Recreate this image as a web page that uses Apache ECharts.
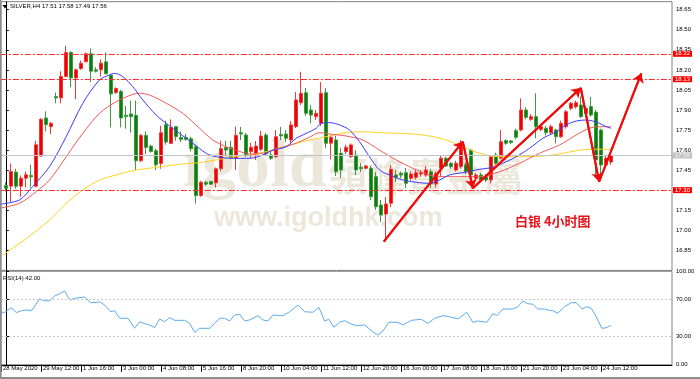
<!DOCTYPE html>
<html><head><meta charset="utf-8">
<script src="https://cdn.jsdelivr.net/npm/echarts@6/dist/echarts.min.js"></script>
<style>html,body{margin:0;padding:0;background:#fff}#c{width:700px;height:379px}</style>
</head><body><div id="c"></div>
<script>
// ---------- data ----------
const tickBars = [-1, 7, 15, 23, 31, 39, 47, 55, 63, 71, 79, 87, 95, 103, 111, 119];
const tickLabels = ['28 May 2020', '29 May 12:00', '1 Jun 16:00', '3 Jun 00:00', '4 Jun 08:00', '5 Jun 16:00',
  '8 Jun 20:00', '10 Jun 04:00', '11 Jun 12:00', '12 Jun 20:00', '16 Jun 00:00', '17 Jun 08:00',
  '18 Jun 16:00', '21 Jun 20:00', '23 Jun 04:00', '24 Jun 12:00'];

const opens = [17.335,17.33,17.435,17.33,17.39,17.41,17.33,17.555,17.84,17.775,
  18.00,17.99,18.15,18.33,18.14,18.21,18.26,18.32,18.20,18.20,
  18.26,18.16,18.03,18.04,17.86,17.87,17.86,17.52,17.71,17.63,
  17.595,17.50,17.79,17.65,17.775,17.695,17.695,17.685,17.625,17.26,
  17.36,17.365,17.355,17.46,17.62,17.62,17.54,17.73,17.713,17.588,
  17.571,17.606,17.713,17.563,17.55,17.716,17.72,17.675,17.775,17.954,
  18.029,17.90,17.85,17.80,18.029,17.651,17.675,17.576,17.588,17.55,
  17.563,17.471,17.464,17.464,17.401,17.189,17.121,17.202,17.414,17.426,
  17.431,17.389,17.396,17.421,17.413,17.438,17.346,17.464,17.539,17.501,
  17.451,17.476,17.49,17.60,17.389,17.414,17.401,17.376,17.563,17.539,
  17.671,17.668,17.745,17.75,17.90,17.83,17.85,17.755,17.763,17.73,
  17.75,17.70,17.775,17.912,17.924,17.937,17.875,17.925,17.884,17.75,
  17.488,17.51];
const closes = [17.315,17.44,17.33,17.39,17.415,17.40,17.64,17.83,17.79,17.80,
  17.99,18.15,18.33,18.14,18.20,18.25,18.32,18.19,18.19,18.25,
  18.17,18.02,18.06,17.84,17.85,17.85,17.52,17.71,17.62,17.59,
  17.49,17.73,17.66,17.77,17.70,17.68,17.68,17.61,17.26,17.36,
  17.345,17.345,17.46,17.61,17.60,17.54,17.71,17.72,17.563,17.621,
  17.63,17.705,17.571,17.539,17.70,17.706,17.688,17.788,17.975,18.025,
  17.875,17.862,17.875,18.025,17.651,17.696,17.438,17.451,17.621,17.638,
  17.451,17.461,17.481,17.251,17.176,17.114,17.197,17.456,17.396,17.414,
  17.351,17.421,17.431,17.431,17.451,17.346,17.426,17.539,17.481,17.476,
  17.501,17.651,17.44,17.414,17.414,17.376,17.376,17.55,17.501,17.663,
  17.651,17.656,17.696,17.90,17.845,17.85,17.775,17.775,17.73,17.775,
  17.70,17.80,17.887,17.95,17.954,17.85,17.912,17.862,17.526,17.488,
  17.539,17.56];
const lows = [17.29,17.21,17.31,17.25,17.32,17.32,17.32,17.55,17.74,17.72,
  17.95,17.95,18.15,18.07,17.98,18.20,18.26,18.11,18.18,18.15,
  18.17,17.77,18.02,17.77,17.76,17.73,17.45,17.51,17.57,17.58,
  17.45,17.46,17.64,17.65,17.67,17.66,17.67,17.59,17.20,17.25,
  17.33,17.34,17.32,17.44,17.56,17.53,17.45,17.675,17.548,17.541,
  17.526,17.593,17.556,17.526,17.541,17.675,17.66,17.653,17.765,17.937,
  17.855,17.80,17.825,17.78,17.616,17.53,17.406,17.391,17.57,17.54,
  17.413,17.436,17.455,17.227,17.152,17.062,16.915,17.174,17.361,17.39,
  17.316,17.37,17.38,17.40,17.40,17.316,17.32,17.401,17.473,17.46,
  17.44,17.46,17.42,17.36,17.37,17.36,17.36,17.351,17.49,17.53,
  17.64,17.645,17.68,17.74,17.83,17.82,17.688,17.74,17.71,17.72,
  17.65,17.69,17.76,17.90,17.91,17.84,17.86,17.85,17.40,17.413,
  17.464,17.49];
const highs = [17.36,17.50,17.46,17.41,17.44,17.49,17.67,17.84,17.89,17.81,
  18.03,18.19,18.38,18.34,18.21,18.27,18.33,18.36,18.22,18.28,
  18.33,18.17,18.07,18.05,17.93,17.97,17.97,17.72,17.74,17.64,
  17.61,17.78,17.82,17.83,17.78,17.74,17.72,17.70,17.64,17.37,
  17.37,17.37,17.47,17.67,17.67,17.67,17.775,17.773,17.728,17.653,
  17.668,17.743,17.728,17.586,17.75,17.773,17.75,17.817,18.034,18.186,
  18.064,17.937,17.90,18.109,18.064,17.713,17.705,17.616,17.64,17.65,
  17.60,17.503,17.49,17.481,17.436,17.227,17.249,17.488,17.451,17.44,
  17.466,17.44,17.46,17.45,17.48,17.46,17.44,17.563,17.55,17.51,
  17.52,17.675,17.51,17.61,17.43,17.43,17.42,17.563,17.58,17.75,
  17.68,17.675,17.76,17.987,17.92,17.87,18.025,17.79,17.78,17.79,
  17.76,17.82,17.90,17.96,17.97,18.00,17.93,17.997,17.90,17.76,
  17.563,17.58];

// moving averages: [bar, price]
const maBlue = [[-1.26,17.194],[2.74,17.227],[5.34,17.326],[8.74,17.476],[12.08,17.70],[15.4,17.95],
  [18.74,18.124],[20.74,18.162],[21.74,18.174],[23.4,18.149],[25.4,18.074],[27.4,17.975],[30.08,17.862],
  [32.08,17.80],[34.74,17.725],[37.4,17.651],[40.08,17.576],[42.08,17.55],[45.4,17.538],[48.74,17.538],
  [51.4,17.563],[53.4,17.60],[56.08,17.625],[58.08,17.688],[60.08,17.725],[62.08,17.763],[63.08,17.80],
  [64.74,17.805],[66.74,17.788],[68.74,17.75],[70.74,17.663],[72.74,17.55],[74.74,17.451],[76.74,17.414],
  [79.4,17.376],[82.08,17.359],[84.74,17.351],[86.74,17.376],[88.74,17.414],[91.4,17.431],[94.74,17.456],
  [97.4,17.471],[99.4,17.501],[102.08,17.55],[104.74,17.613],[107.4,17.688],[110.08,17.737],[112.08,17.788],
  [114.08,17.817],[116.08,17.825],[117.4,17.817],[118.74,17.80],[120.08,17.775],[121.08,17.763]];
const maRed = [[-1.26,17.165],[2.74,17.202],[6.08,17.289],[8.74,17.376],[12.08,17.55],[15.4,17.725],
  [18.74,17.875],[22.08,17.962],[25.4,18.017],[26.74,18.025],[28.74,18.012],[32.08,17.95],[35.4,17.875],
  [38.74,17.763],[41.4,17.675],[44.08,17.625],[46.74,17.59],[48.74,17.57],[51.4,17.576],[54.74,17.613],
  [58.08,17.651],[60.74,17.696],[62.74,17.73],[64.74,17.72],[68.08,17.705],[71.4,17.675],[74.74,17.60],
  [78.08,17.526],[81.4,17.464],[84.74,17.414],[88.08,17.401],[91.4,17.401],[94.74,17.401],[98.74,17.438],
  [102.74,17.501],[106.74,17.576],[110.74,17.638],[114.08,17.713],[116.74,17.763],[118.74,17.775],[121.08,17.775]];
const maYellow = [[-0.66,16.815],[3.74,16.927],[8.74,17.077],[12.08,17.202],[15.4,17.301],[18.74,17.376],
  [22.08,17.414],[25.4,17.446],[28.74,17.464],[32.08,17.481],[35.4,17.496],[38.74,17.506],[42.08,17.526],
  [45.4,17.55],[48.74,17.563],[52.74,17.595],[56.74,17.638],[60.74,17.675],[64.74,17.705],[68.08,17.73],
  [71.4,17.737],[74.74,17.73],[78.08,17.725],[81.4,17.72],[84.74,17.705],[88.08,17.675],[91.4,17.625],
  [94.74,17.576],[98.74,17.55],[104.08,17.55],[109.4,17.563],[114.08,17.595],[117.4,17.606],[121.08,17.606]];

// RSI(14): [bar, value]
const rsi14 = [[-1.26,56.1],[-0.26,56],[1.08,61],[2.08,55.7],[3.08,57.8],[4.08,58.6],[5.08,57.8],[6.74,70.3],
  [7.74,68.5],[8.74,68.5],[9.74,73.5],[10.74,76],[11.74,78.9],[12.74,69.3],[13.74,71.1],[15.74,72.5],
  [16.88,66.4],[17.74,66.4],[18.74,67.4],[19.74,63.9],[20.94,56.7],[21.74,57.8],[22.74,49.7],[24.4,49.7],
  [25.74,39],[26.74,46],[28.08,43.3],[28.74,42.5],[29.74,39.6],[30.74,48.9],[31.74,46],[32.74,50.3],
  [33.74,47.5],[35.74,47.5],[36.74,44.3],[37.74,34.7],[38.74,39],[40.74,39],[42.74,49.7],[43.74,49.7],
  [44.74,46.8],[45.74,53.2],[46.74,54],[47.74,46.8],[48.74,47.9],[50.4,52.5],[51.4,47.9],[52.4,46.8],
  [53.4,53.2],[55.4,52.5],[56.74,56.7],[58.4,63.9],[59.74,56.7],[61.4,56.1],[62.6,61.4],[63.74,46.8],
  [64.6,48.6],[65.6,40.1],[66.74,45.4],[67.74,47.1],[68.74,44.3],[70.08,41.8],[71.74,42.5],[73.4,35.3],
  [74.4,31.8],[75.4,36.1],[76.6,45.4],[78.4,45.4],[79.4,42.5],[81.08,47.5],[83.08,48.6],[84.4,44.3],
  [85.74,49.7],[87.4,52.5],[88.74,51.4],[90.4,48.9],[92.2,56.1],[93.4,45.4],[94.4,46.8],[96.2,45.4],
  [97.4,54.6],[98.2,52.5],[99.4,59.6],[101.4,59.6],[102.4,62.1],[103.4,68.2],[104.4,65.3],[105.4,64.7],
  [106.4,59.6],[107.74,59.6],[108.74,58.2],[109.4,57.8],[110.4,55],[111.74,62.1],[113.08,66.4],[114.08,66.4],
  [114.4,64.7],[115.28,59.6],[116.2,62.1],[117.08,60.4],[118.08,51.4],[119.2,39],[120.08,39.6],[121,42]];

const levelLines = [18.32, 18.13, 17.30];
const lastPrice = 17.56;
const priceTicks = [16.85,17.00,17.15,17.30,17.45,17.60,17.75,17.90,18.05,18.20,18.35,18.50,18.65];
const rsiTicks = [0, 30, 70, 100];
const rsiLevels = [70, 30];
const arrowPath = [[75.6,16.915],[91.4,17.663],[93.4,17.314],[115,18.064],[118.66,17.363],[127.1,18.174]];
const headerText = 'SILVER,H4 17.51 17.58 17.49 17.56';
const rsiTitle = 'RSI(14) 42.00';
const noteText = '白银 4小时图';

// ---------- chart ----------
const FONT = 'Liberation Sans';
const candles = opens.map((o, i) => [i, o, closes[i], lows[i], highs[i]]);
const arrowSegs = [];
for (let i = 0; i < arrowPath.length - 1; i++) arrowSegs.push([{coord: arrowPath[i]}, {coord: arrowPath[i + 1]}]);
const fmtLabel = v => { const i = tickBars.indexOf(v); return i >= 0 ? tickLabels[i] : ''; };
const LEVEL_RED = '#ff2a2a';

const chart = echarts.init(document.getElementById('c'), null, {renderer: 'canvas'});
const wm = 'rgba(196,182,146,0.33)';
chart.setOption({
  animation: false,
  backgroundColor: '#fff',
  textStyle: {fontFamily: FONT},
  grid: [
    {left: 0.8, top: 1.68, width: 671.2, height: 268.7, show: true, borderColor: '#808080', borderWidth: 1},
    {left: 0.8, top: 271.25, width: 671.2, height: 93.5, show: true, borderColor: '#808080', borderWidth: 1}
  ],
  xAxis: [
    {gridIndex: 0, type: 'value', min: -1, max: 133.24, show: false},
    {gridIndex: 1, type: 'value', min: -1, max: 133.24,
      axisLine: {show: true, lineStyle: {color: '#000', width: 1}},
      axisTick: {show: true, length: 7, customValues: tickBars, lineStyle: {color: '#000'}},
      axisLabel: {customValues: tickBars, formatter: fmtLabel, align: 'left', margin: 1, padding: [0,0,0,2],
        fontSize: 6, color: '#000', fontFamily: FONT},
      splitLine: {show: false}}
  ],
  yAxis: [
    {gridIndex: 0, type: 'value', position: 'right', min: 16.70, max: 18.71, scale: true,
      axisLine: {show: true, lineStyle: {color: '#000', width: 1}},
      axisTick: {show: true, length: 3, customValues: priceTicks, lineStyle: {color: '#000'}},
      axisLabel: {customValues: priceTicks, formatter: v => v.toFixed(2), fontSize: 6, margin: 4, color: '#000', fontFamily: FONT},
      splitLine: {show: false}},
    {gridIndex: 1, type: 'value', position: 'right', min: 0, max: 100,
      axisLine: {show: true, lineStyle: {color: '#000', width: 1}},
      axisTick: {show: true, length: 3, customValues: rsiTicks, lineStyle: {color: '#000'}},
      axisLabel: {customValues: rsiTicks, formatter: v => v.toFixed(2), fontSize: 6, margin: 4, color: '#000', fontFamily: FONT},
      splitLine: {show: false}}
  ],
  graphic: [
    {type: 'text', left: 183, top: 134, z: 0, silent: true, style: {text: 'igold', font: 'bold 68px "Liberation Serif"', fill: wm}},
    {type: 'text', left: 328, top: 157, z: 0, silent: true, style: {text: '領峰貴金屬', font: 'bold 39px "Noto Sans CJK TC"', fill: wm}},
    {type: 'text', left: 214, top: 205, z: 0, silent: true, style: {text: 'www.igoldhk.com', font: 'bold 27px "Liberation Sans"', fill: wm}},
    {type: 'polygon', z: 10, shape: {points: [[2.5, 5], [7.5, 5], [5, 8.5]]}, style: {fill: '#000'}},
    {type: 'text', left: 10, top: 3, z: 10, style: {text: headerText, font: '6px "Liberation Sans"', fill: '#000'}},
    {type: 'text', left: 3, top: 275, z: 10, style: {text: rsiTitle, font: '6px "Liberation Sans"', fill: '#000'}},
    {type: 'text', left: 515, top: 215, z: 10, style: {text: noteText, font: 'bold 13px "Noto Sans CJK SC"', fill: '#e8141c'}},
    {type: 'rect', z: 20, shape: {x: 0, y: 0, width: 1.6, height: 377}, style: {fill: '#8c8c8c'}},
    {type: 'rect', z: 20, shape: {x: 0, y: 377, width: 700, height: 2}, style: {fill: '#8c8c8c'}}
  ],
  series: [
    {type: 'candlestick', xAxisIndex: 0, yAxisIndex: 0, data: candles, barWidth: 3,
      itemStyle: {color: '#ee0000', color0: '#0a7d0a', borderColor: '#f03a3a', borderColor0: '#3f9a3f', borderWidth: 1},
      markLine: {silent: true, symbol: 'none', animation: false, precision: 2,
        lineStyle: {color: LEVEL_RED, width: 1, type: [6, 2, 2, 2], opacity: 1},
        data: levelLines.map(v => ({yAxis: v,
          lineStyle: {color: LEVEL_RED, width: 1, type: [6, 2, 2, 2], opacity: 1},
          label: {show: true, position: 'end', distance: 1, formatter: () => v.toFixed(2), color: '#fff',
            backgroundColor: '#ff0000', padding: [0, 2, 0, 2], fontSize: 6, fontFamily: FONT}}))
          .concat([{yAxis: lastPrice, lineStyle: {color: '#c4c4c4', width: 1, type: 'solid'},
            label: {show: true, position: 'end', distance: 1, formatter: () => lastPrice.toFixed(2), color: '#fff',
              backgroundColor: '#c0c0c0', padding: [0, 2, 0, 2], fontSize: 6, fontFamily: FONT}}])}},
    {type: 'line', xAxisIndex: 0, yAxisIndex: 0, data: maYellow, smooth: 0.3, showSymbol: false, z: 3,
      lineStyle: {color: '#ffd21e', width: 1}},
    {type: 'line', xAxisIndex: 0, yAxisIndex: 0, data: maRed, smooth: 0.3, showSymbol: false, z: 3,
      lineStyle: {color: '#f25858', width: 1}},
    {type: 'line', xAxisIndex: 0, yAxisIndex: 0, data: maBlue, smooth: 0.3, showSymbol: false, z: 3,
      lineStyle: {color: '#3a3aff', width: 1}},
    {type: 'line', xAxisIndex: 0, yAxisIndex: 0, data: arrowPath, showSymbol: false, z: 6,
      lineStyle: {color: '#f00a0a', width: 2},
      markLine: {silent: true, symbol: ['none', 'arrow'], symbolSize: 9, label: {show: false},
        lineStyle: {color: '#f00a0a', width: 2, type: 'solid'}, data: arrowSegs}},
    {type: 'line', xAxisIndex: 1, yAxisIndex: 1, data: rsi14, showSymbol: false,
      lineStyle: {color: '#5aabf2', width: 1},
      markLine: {silent: true, symbol: 'none', label: {show: false},
        lineStyle: {color: '#c8c8c8', width: 1, type: [2, 2]}, data: rsiLevels.map(v => ({yAxis: v}))}}
  ]
});
</script></body></html>
